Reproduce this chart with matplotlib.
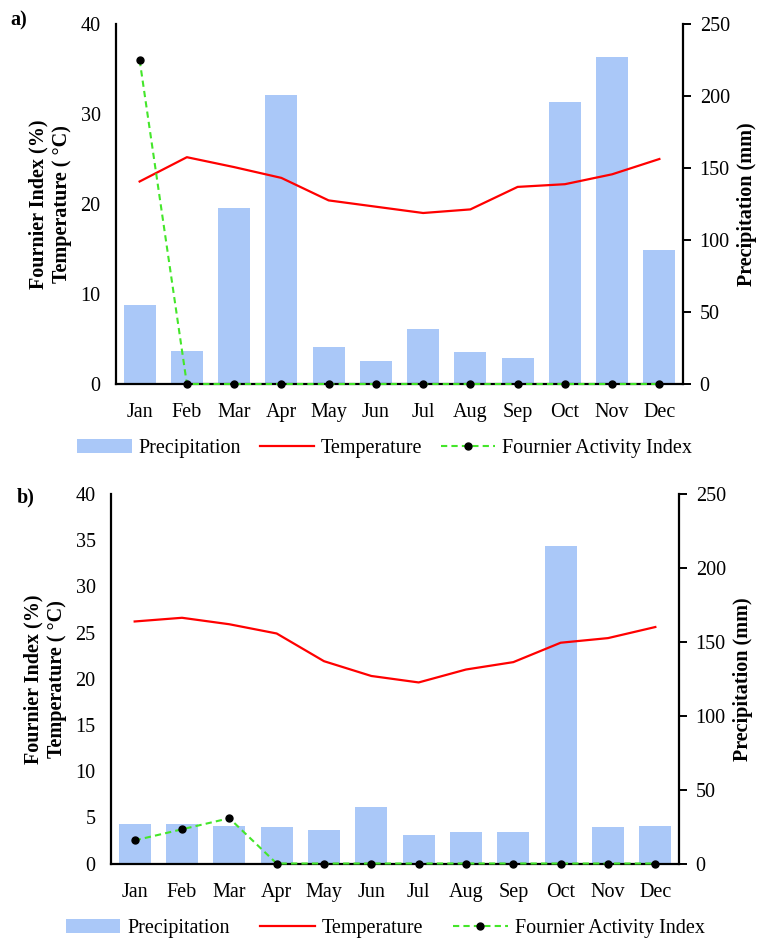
import matplotlib
matplotlib.use("Agg")
import matplotlib.pyplot as plt
from matplotlib.patches import Patch
from matplotlib.lines import Line2D

plt.rcParams['font.family'] = ['Liberation Serif', 'DejaVu Serif']

months = ["Jan", "Feb", "Mar", "Apr", "May", "Jun", "Jul", "Aug", "Sep", "Oct", "Nov", "Dec"]

precip_a = [55, 23, 122, 201, 26, 16, 38, 22, 18, 196, 227, 93]
temp_a = [22.5, 25.2, 24.1, 22.9, 20.4, 19.7, 19.0, 19.4, 21.9, 22.2, 23.3, 25.0]
fournier_a = [36, 0, 0, 0, 0, 0, 0, 0, 0, 0, 0, 0]

precip_b = [26.5, 26.5, 25.5, 24.5, 22.5, 38.5, 19, 21.5, 21.5, 215, 24.5, 25.5]
temp_b = [26.2, 26.6, 25.9, 24.9, 21.9, 20.3, 19.6, 21.0, 21.8, 23.9, 24.4, 25.6]
fournier_b = [2.5, 3.7, 4.9, 0, 0, 0, 0, 0, 0, 0, 0, 0]

left_ticks_a = [0, 10, 20, 30, 40]
left_ticks_b = [0, 5, 10, 15, 20, 25, 30, 35, 40]
right_ticks = [0, 50, 100, 150, 200, 250]

BAR = '#AAC8F8'
RED = '#FF0000'
GREEN = '#44E62A'
FS = 14.5

fig = plt.figure(figsize=(7.6, 9.38), dpi=100)


def panel(rect, precip, temp, fourn, lticks, label, label_xy, leg_x, leg_y, colsp):
    ax = fig.add_axes(rect)
    ax2 = ax.twinx()
    x = list(range(len(months)))
    ax2.bar(x, precip, width=0.68, color=BAR, zorder=1)
    ax.plot(x, temp, color=RED, lw=1.6, zorder=3)
    ax.plot(x, fourn, color=GREEN, lw=1.5, ls=(0, (3, 2)), marker='o',
            markersize=5, markerfacecolor='black', markeredgecolor='black',
            zorder=5, clip_on=False)
    ax.set_zorder(ax2.get_zorder() + 1)
    ax.patch.set_visible(False)

    ax.set_xlim(-0.5, 11.5)
    ax.set_ylim(0, 40)
    ax2.set_ylim(0, 250)
    ax.set_yticks(lticks)
    ax2.set_yticks(right_ticks)
    ax.set_xticks(x)
    ax.set_xticklabels(months)

    for a in (ax, ax2):
        a.spines['top'].set_visible(False)
        for s in a.spines.values():
            s.set_linewidth(1.6)
    ax.spines['right'].set_visible(False)
    ax2.spines['left'].set_visible(False)
    ax2.spines['bottom'].set_visible(False)

    ax.tick_params(axis='y', length=0, pad=11, labelsize=FS)
    ax.tick_params(axis='x', length=0, pad=14, labelsize=FS)
    ax2.tick_params(axis='y', length=6, width=1.4, pad=6, labelsize=FS, direction='out')

    ax.set_ylabel("Fournier Index (%)\nTemperature ( °C)", fontsize=FS, fontweight='bold',
                  labelpad=6, linespacing=1.25)
    ax2.set_ylabel("Precipitation (mm)", fontsize=FS, fontweight='bold', labelpad=5)

    fig.text(label_xy[0], label_xy[1], label, fontsize=FS, fontweight='bold',
             ha='left', va='center')

    handles = [Patch(facecolor=BAR, edgecolor='none'),
               Line2D([0], [0], color=RED, lw=1.6),
               Line2D([0], [0], color=GREEN, lw=1.5, ls=(0, (3, 2)), marker='o',
                      markersize=5, markerfacecolor='black', markeredgecolor='black')]
    ax.legend(handles, ["Precipitation", "Temperature", "Fournier Activity Index"],
              loc='center', bbox_to_anchor=(leg_x, leg_y), ncol=3, frameon=False,
              fontsize=FS, handlelength=2.7, columnspacing=colsp, handletextpad=0.35)
    return ax


panel([116/760, 1-384/938, (683-116)/760, 360/938], precip_a, temp_a, fournier_a,
      left_ticks_a, "a)", (10/760, 1-20/938), 0.474, -0.178, 0.9)
panel([111/760, 1-863.5/938, (679-111)/760, 369.5/938], precip_b, temp_b, fournier_b,
      left_ticks_b, "b)", (17/760, 1-497/938), 0.483, -0.175, 1.5)

fig.savefig("out.png", dpi=100)
